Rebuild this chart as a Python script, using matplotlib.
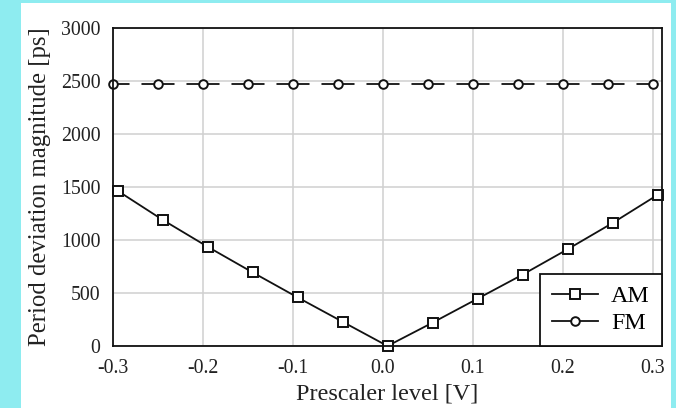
import matplotlib
matplotlib.use("Agg")
import matplotlib.pyplot as plt
from matplotlib.patches import Rectangle
from matplotlib.lines import Line2D

# data
x_fm = [-0.30, -0.25, -0.20, -0.15, -0.10, -0.05, 0.00, 0.05, 0.10, 0.15, 0.20, 0.25, 0.30]
fm = [2470, 2470, 2470, 2470, 2470, 2470, 2470, 2470, 2470, 2470, 2470, 2470, 2470]
x_am = [-0.295, -0.245, -0.195, -0.145, -0.095, -0.045, 0.005, 0.055, 0.105, 0.155, 0.205, 0.255, 0.305]
am = [1465, 1191, 937, 695, 459, 229, 0, 220, 446, 673, 912, 1160, 1425]
xticks = [-0.3, -0.2, -0.1, 0.0, 0.1, 0.2, 0.3]
xtick_labels = ["-0.3", "-0.2", "-0.1", "0.0", "0.1", "0.2", "0.3"]
yticks = [0, 500, 1000, 1500, 2000, 2500, 3000]

plt.rcParams['font.family'] = ['Liberation Serif', 'DejaVu Serif']
plt.rcParams['axes.unicode_minus'] = False
plt.rcParams['lines.scale_dashes'] = False

W, H = 676, 408
fig = plt.figure(figsize=(W / 100, H / 100), dpi=100, facecolor="#8eecf0")
# white panel on the cyan background
fig.patches.append(Rectangle((21 / W, 0), (671 - 21) / W, (408 - 3) / H,
                             transform=fig.transFigure, facecolor="white",
                             edgecolor="none", zorder=-10))

ax = fig.add_axes([113 / W, (H - 346) / H, (662 - 113) / W, (346 - 28) / H])
ax.set_facecolor("white")

ax.plot(x_fm, fm, color="#111111", lw=1.3, linestyle=(11.9, (23.8, 8.6)),
        marker="o", markersize=6.2, markerfacecolor="white", markeredgewidth=1.4,
        clip_on=False, zorder=3)
ax.plot(x_am, am, color="#111111", lw=1.3, marker="s", markersize=6.8,
        markerfacecolor="white", markeredgewidth=1.4, clip_on=False, zorder=3)

ax.set_xlim(-0.3, 0.31)
ax.set_ylim(0, 3000)
ax.set_xticks(xticks)
ax.set_xticklabels(xtick_labels)
ax.set_yticks(yticks)
ax.tick_params(axis="both", length=0, labelsize=14.3, colors="#222222")
ax.tick_params(axis="y", pad=9)
ax.tick_params(axis="x", pad=9.5)
ax.grid(True, color="#d0d0d0", lw=1.1)
ax.set_axisbelow(True)
for s in ax.spines.values():
    s.set_color("#111111")
    s.set_linewidth(1.3)
    s.set_zorder(4)

ax.set_xlabel("Prescaler level [V]", fontsize=17.5, color="#222222", labelpad=4)
ax.set_ylabel("Period deviation magnitude [ps]", fontsize=17.8, color="#222222", labelpad=7)

handles = [
    Line2D([], [], color="#111111", lw=1.3, marker="s", markersize=6.8,
           markerfacecolor="white", markeredgewidth=1.4),
    Line2D([], [], color="#111111", lw=1.3, marker="o", markersize=6.2,
           markerfacecolor="white", markeredgewidth=1.4),
]
leg = ax.legend(handles, ["AM", "FM"], loc="lower right", fontsize=17.3,
                borderaxespad=0, fancybox=False, framealpha=1,
                edgecolor="#111111", handlelength=1.9, handletextpad=0.55,
                labelspacing=0.2, borderpad=0.5)
leg.get_frame().set_linewidth(1.3)
leg.set_zorder(5)

fig.savefig("out.png", dpi=100, facecolor=fig.get_facecolor())
